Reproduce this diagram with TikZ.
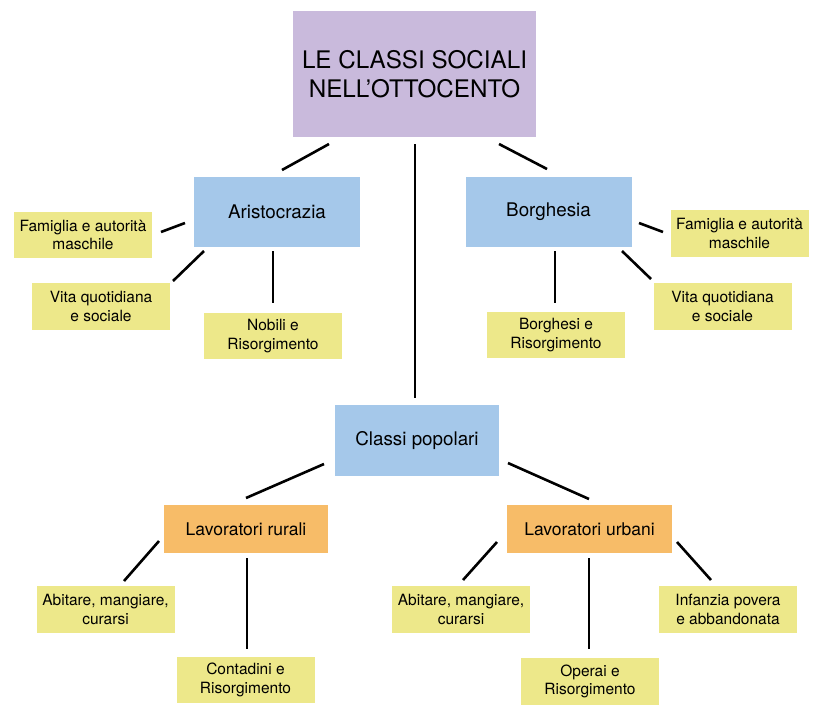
\documentclass[tikz,border=0pt]{standalone}
\usepackage{fontspec}
\setmainfont{TeX Gyre Heros}
\usetikzlibrary{calc}
\definecolor{lav}{RGB}{201,186,220}
\definecolor{cblue}{RGB}{165,200,234}
\definecolor{corange}{RGB}{247,188,104}
\definecolor{cyellow}{RGB}{237,232,138}
\tikzset{
  box/.style={draw=none, inner sep=0pt, align=center, text=black},
  titlebox/.style={box, fill=lav, minimum width=243, minimum height=126, font=\fontsize{24.2}{28.5}\selectfont},
  mainbox/.style={box, fill=cblue, minimum width=166, minimum height=70, font=\fontsize{18.8}{22}\selectfont},
  subbox/.style={box, fill=corange, minimum width=164, minimum height=48, font=\fontsize{17.5}{20}\selectfont},
  leafbox/.style={box, fill=cyellow, minimum width=138, minimum height=46, font=\fontsize{15.5}{18.5}\selectfont},
  conn/.style={line width=2.6pt, black}
}
\begin{document}
\begin{tikzpicture}[x=1pt,y=-1pt]
\useasboundingbox (0,0) rectangle (816,721);
% nodes
\node[titlebox] (title) at (414.5,74) {LE CLASSI SOCIALI\\NELL’OTTOCENTO};
\node[mainbox] (aris) at (277,212) {Aristocrazia};
\node[mainbox] (borg) at (548.5,212) {Borghesia};
\node[mainbox, minimum width=164, minimum height=71] (classi) at (417,440.5) {Classi popolari};
\node[leafbox] (famL) at (83,235) {Famiglia e autorità\\maschile};
\node[leafbox, minimum height=47] (vitaL) at (101,306.5) {Vita quotidiana\\e sociale};
\node[leafbox] (nobili) at (273,336) {Nobili e\\Risorgimento};
\node[leafbox, minimum height=47] (famR) at (739.5,233.5) {Famiglia e autorità\\maschile};
\node[leafbox, minimum height=47] (vitaR) at (722.5,306.5) {Vita quotidiana\\e sociale};
\node[leafbox] (borghesi) at (556,335) {Borghesi e\\Risorgimento};
\node[subbox] (rurali) at (246,529) {Lavoratori rurali};
\node[subbox, minimum width=165] (urbani) at (589.5,529) {Lavoratori urbani};
\node[leafbox, minimum height=47] (abitL) at (105.5,609.5) {Abitare, mangiare,\\curarsi};
\node[leafbox] (contadini) at (245.5,680) {Contadini e\\Risorgimento};
\node[leafbox, minimum height=47] (abitR) at (461,609.5) {Abitare, mangiare,\\curarsi};
\node[leafbox, minimum height=47] (operai) at (590,681.5) {Operai e\\Risorgimento};
\node[leafbox, minimum height=47] (infanzia) at (728,609.5) {Infanzia povera\\e abbandonata};
% connectors
\draw[conn] ($(title)+(-85.5,70)$) -- ($(aris)+(5,-42)$);
\draw[conn] ($(title)+(0.5,70)$) -- ($(classi)+(-2,-42.5)$);
\draw[conn] ($(title)+(84.5,70)$) -- ($(borg)+(-1.5,-43)$);
\draw[conn] ($(aris)+(-92,11)$) -- ($(famL)+(78,-3)$);
\draw[conn] ($(aris)+(-73,39)$) -- ($(vitaL)+(72,-25.5)$);
\draw[conn] ($(aris)+(-4,39)$) -- ($(nobili)+(0,-33)$);
\draw[conn] ($(borg)+(90.5,11)$) -- ($(famR)+(-76.5,-1.5)$);
\draw[conn] ($(borg)+(73.5,39)$) -- ($(vitaR)+(-71.5,-27.5)$);
\draw[conn] ($(borg)+(6.5,39)$) -- ($(borghesi)+(-1,-32)$);
\draw[conn] ($(classi)+(-93,23.5)$) -- ($(rurali)+(0,-31)$);
\draw[conn] ($(classi)+(91,22.5)$) -- ($(urbani)+(-0.5,-30)$);
\draw[conn] ($(rurali)+(-87,12)$) -- ($(abitL)+(18.5,-28.5)$);
\draw[conn] ($(rurali)+(1,29)$) -- ($(contadini)+(1.5,-31)$);
\draw[conn] ($(urbani)+(-92.5,13)$) -- ($(abitR)+(2,-29.5)$);
\draw[conn] ($(urbani)+(-0.5,29)$) -- ($(operai)+(-1,-32.5)$);
\draw[conn] ($(urbani)+(87.5,13)$) -- ($(infanzia)+(-17,-29.5)$);
\end{tikzpicture}
\end{document}
